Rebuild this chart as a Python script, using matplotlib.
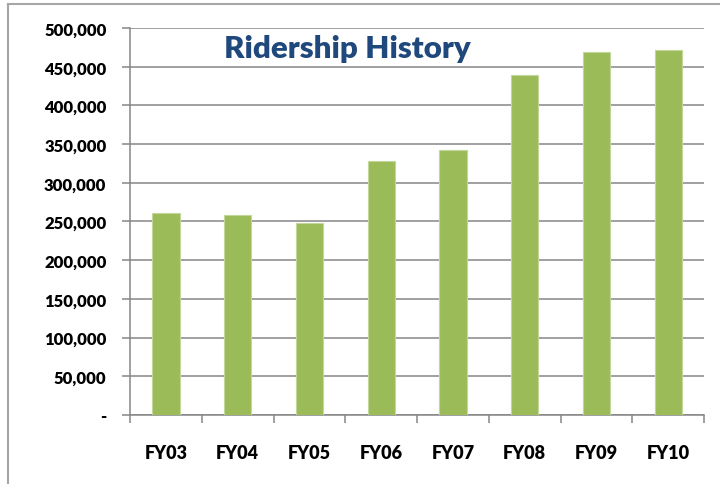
import matplotlib.pyplot as plt
from matplotlib.ticker import FuncFormatter
from matplotlib.lines import Line2D

years = ['FY03', 'FY04', 'FY05', 'FY06', 'FY07', 'FY08', 'FY09', 'FY10']
riders = [260600, 258000, 247700, 327800, 342800, 438900, 469000, 471200]
yticks = [0, 50000, 100000, 150000, 200000, 250000, 300000, 350000, 400000, 450000, 500000]

fig = plt.figure(figsize=(7.2, 4.85), dpi=100)
ax = fig.add_axes([0.1806, 0.1423, 0.7972, 0.7979])

x = list(range(len(years)))
ax.bar(x, riders, width=0.38, color='#9BBB59', edgecolor='#C3D69B', linewidth=0.8, zorder=3)

ax.set_xlim(-0.5, len(years) - 0.5)
ax.set_ylim(0, 500000)
ax.set_yticks(yticks)
ax.yaxis.set_major_formatter(FuncFormatter(lambda v, p: '-' if v == 0 else f'{int(v):,}'))
ax.grid(axis='y', color='#868686', linewidth=1.1, zorder=0)

ax.set_xticks(x)
ax.set_xticklabels(years)
ax.set_xticks([i - 0.5 for i in range(len(years) + 1)], minor=True)
ax.tick_params(axis='x', which='major', length=0, pad=21)
ax.tick_params(axis='x', which='minor', length=6, width=1.1, color='#868686', direction='out')
ax.tick_params(axis='y', length=6, width=1.1, color='#868686', pad=11)

for lab in ax.get_xticklabels():
    lab.set_fontweight('heavy')
    lab.set_fontsize(13)
    lab.set_family(['Lato', 'DejaVu Sans'])
for lab in ax.get_yticklabels():
    lab.set_fontweight('heavy')
    lab.set_fontsize(12)
    lab.set_family(['Lato', 'DejaVu Sans'])

for s in ['top', 'right']:
    ax.spines[s].set_visible(False)
for s in ['left', 'bottom']:
    ax.spines[s].set_color('#868686')
    ax.spines[s].set_linewidth(1.1)

ax.text(0.378, 0.985, 'Ridership History', transform=ax.transAxes, ha='center', va='top',
        fontsize=22.5, fontweight='heavy', color='#1F497D', family=['Lato', 'DejaVu Sans'], zorder=5)

# outer chart frame (top and left edges visible)
fig.add_artist(Line2D([8 / 720, 1], [1 - 5 / 485, 1 - 5 / 485], transform=fig.transFigure,
                      color='#A6A6A6', linewidth=1.5))
fig.add_artist(Line2D([8 / 720, 8 / 720], [0, 1 - 5 / 485], transform=fig.transFigure,
                      color='#A6A6A6', linewidth=1.5))

fig.savefig('out.png', dpi=100)
